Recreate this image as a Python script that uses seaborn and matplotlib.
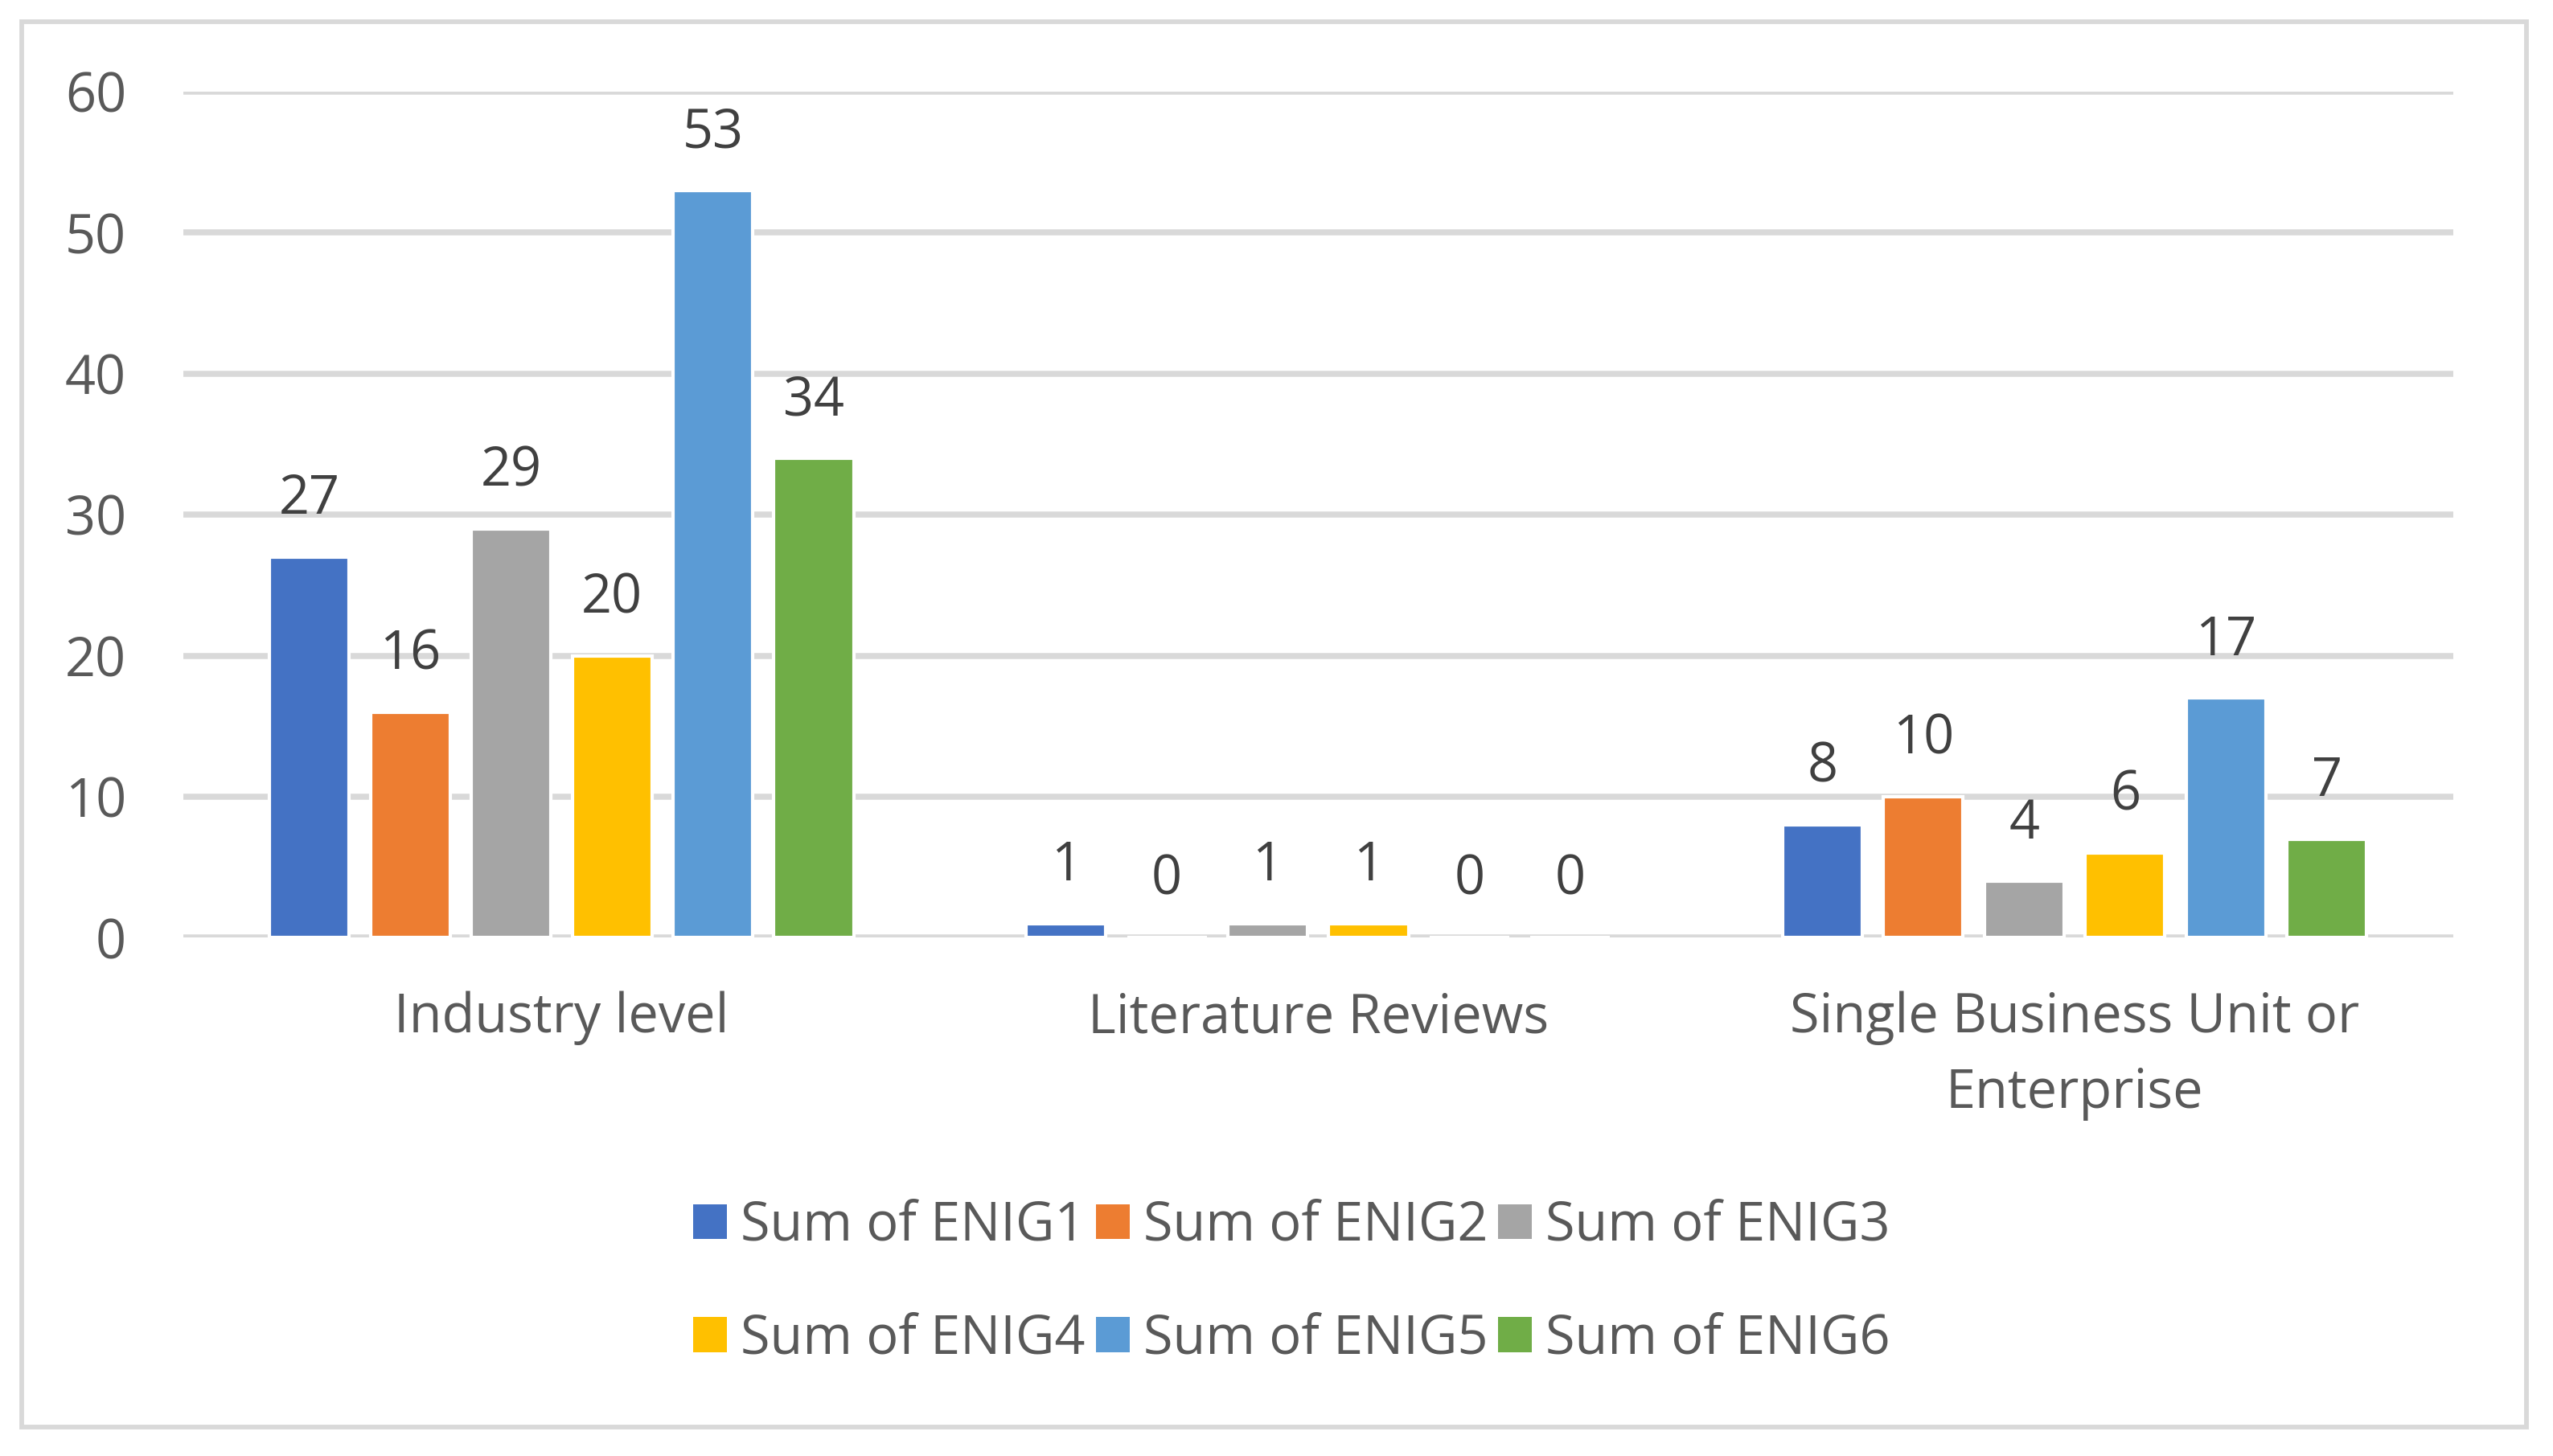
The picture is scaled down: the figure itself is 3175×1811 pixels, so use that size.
import numpy as np
import pandas as pd
import matplotlib
matplotlib.use('Agg')
import matplotlib.pyplot as plt
import seaborn as sns
from matplotlib.patches import Patch, Rectangle

# Data
categories = ["Industry level", "Literature Reviews", "Single Business Unit or\nEnterprise"]
series_names = ["Sum of ENIG1", "Sum of ENIG2", "Sum of ENIG3",
                "Sum of ENIG4", "Sum of ENIG5", "Sum of ENIG6"]
enig1 = [27, 1, 8]
enig2 = [16, 0, 10]
enig3 = [29, 1, 4]
enig4 = [20, 1, 6]
enig5 = [53, 0, 17]
enig6 = [34, 0, 7]
y_ticks = [0, 10, 20, 30, 40, 50, 60]

colors = ['#4472C4', '#ED7D31', '#A5A5A5', '#FFC000', '#5B9BD5', '#70AD47']

# Long-form table for seaborn
wide = pd.DataFrame({'Category': categories,
                     series_names[0]: enig1, series_names[1]: enig2,
                     series_names[2]: enig3, series_names[3]: enig4,
                     series_names[4]: enig5, series_names[5]: enig6})
df = wide.melt(id_vars='Category', var_name='Series', value_name='Value')

sns.set_theme(style='white')
plt.rcParams['font.family'] = ['Open Sans', 'DejaVu Sans']

fs = 16
grey_text = '#595959'

fig = plt.figure(figsize=(3175 / 300, 1811 / 300), dpi=300)
ax = fig.add_axes([0.0718, 0.356, 0.889, 0.581])

sns.barplot(data=df, x='Category', y='Value', hue='Series', order=categories,
            hue_order=series_names, palette=colors, width=0.8, gap=0.21,
            errorbar=None, saturation=1, ax=ax)

for c in ax.containers:
    ax.bar_label(c, padding=9, fontsize=fs, color='#404040')

ax.set_ylim(0, 60)
ax.set_xlim(-0.5, 2.5)
ax.set_yticks(y_ticks)
ax.set_xlabel('')
ax.set_ylabel('')
ax.grid(axis='y', color='#D9D9D9', lw=1.8)
ax.set_axisbelow(True)
for s in ax.spines.values():
    s.set_visible(False)
ax.tick_params(axis='y', length=0, pad=17, labelsize=fs, labelcolor=grey_text)
ax.tick_params(axis='x', length=0, pad=16, labelsize=fs, labelcolor=grey_text)
for t in ax.get_xticklabels():
    t.set_linespacing(1.5)

ax.get_legend().remove()
# legend filled row by row: matplotlib fills by column, so reorder
order = [0, 3, 1, 4, 2, 5]
handles = [Patch(facecolor=colors[i], edgecolor='none') for i in order]
labels = [series_names[i] for i in order]
fig.legend(handles, labels, ncol=3, loc='center',
           bbox_to_anchor=(0.506, 0.119), frameon=False, fontsize=fs,
           handlelength=0.63, handleheight=0.63, handletextpad=0.25,
           columnspacing=0.2, labelspacing=1.1, labelcolor=grey_text)

# outer chart border
fig.patches.append(Rectangle((0.0085, 0.0199), 0.981, 0.965, transform=fig.transFigure,
                             fill=False, edgecolor='#D9D9D9', lw=1.4))

fig.savefig('out.png', dpi=300)
